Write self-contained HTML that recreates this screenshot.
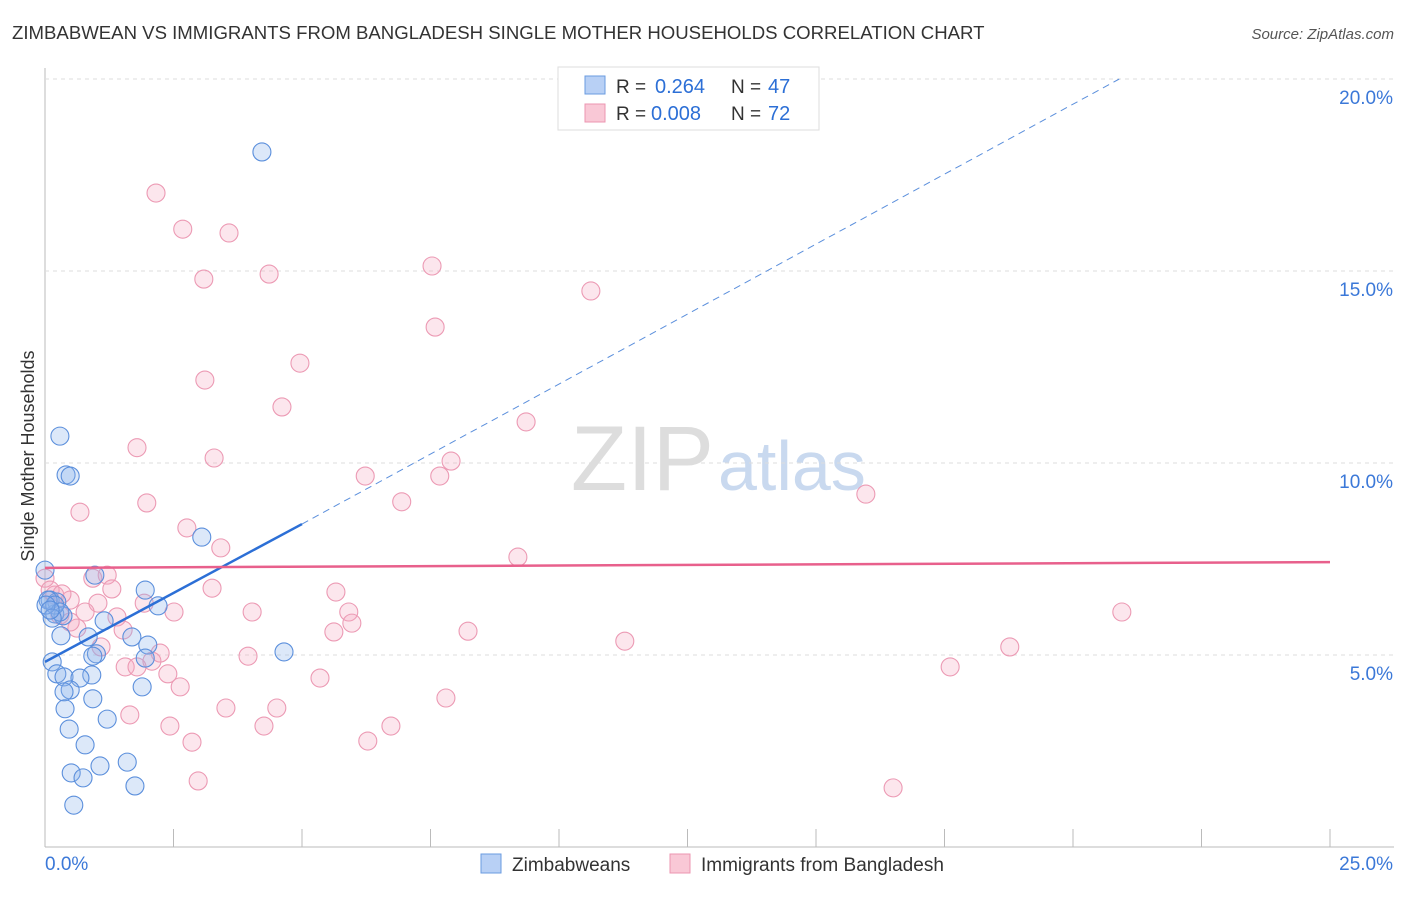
<!DOCTYPE html>
<html><head><meta charset="utf-8"><style>
body{margin:0;background:#fff;font-family:"Liberation Sans",sans-serif}
svg text{font-family:"Liberation Sans",sans-serif}
</style></head><body>
<svg id="c" width="1406" height="892">
<text x="12" y="39" font-size="18.6" fill="#333">ZIMBABWEAN VS IMMIGRANTS FROM BANGLADESH SINGLE MOTHER HOUSEHOLDS CORRELATION CHART</text>
<text x="1394" y="39" font-size="15" fill="#555" text-anchor="end" font-style="italic">Source: ZipAtlas.com</text>
<text x="714" y="490" font-size="92" fill="#ddd" text-anchor="end" font-family="Liberation Serif">ZIP</text>
<text x="718" y="490" font-size="70" fill="#c9d9ef">atlas</text>
<text transform="translate(34,456) rotate(-90)" font-size="18" fill="#333" text-anchor="middle">Single Mother Households</text>
<g id="grid"></g><g id="pts"></g><g id="lines"></g>
<g>
<rect x="558" y="67" width="261" height="63" fill="#fff" stroke="#ddd"/>
<rect x="585" y="76" width="20" height="18" fill="#b8d0f5" stroke="#6a9be0"/>
<rect x="585" y="104" width="20" height="18" fill="#f9c8d6" stroke="#ec96b0"/>
<text x="616" y="93" font-size="19" fill="#333">R =</text><text x="655" y="93" font-size="20" fill="#2c6fd6">0.264</text>
<text x="731" y="93" font-size="19" fill="#333">N =</text><text x="768" y="93" font-size="20" fill="#2c6fd6">47</text>
<text x="616" y="120" font-size="19" fill="#333">R =</text><text x="651" y="120" font-size="20" fill="#2c6fd6">0.008</text>
<text x="731" y="120" font-size="19" fill="#333">N =</text><text x="768" y="120" font-size="20" fill="#2c6fd6">72</text>
</g>
<g>
<rect x="481" y="854" width="20" height="19" fill="#b8d0f5" stroke="#6a9be0"/>
<text x="512" y="871" font-size="19" fill="#333">Zimbabweans</text>
<rect x="670" y="854" width="20" height="19" fill="#f9c8d6" stroke="#ec96b0"/>
<text x="701" y="871" font-size="19" fill="#333">Immigrants from Bangladesh</text>
</g>
</svg>
<script>
const xTicks=[0,2.5,5,7.5,10,12.5,15,17.5,20,22.5,25];
const yTicks=[5,10,15,20];
const yTickLabels=["5.0%","10.0%","15.0%","20.0%"];
const xEndLabels=["0.0%","25.0%"];
const blueX=[4.22,0.29,0.41,0.49,3.05,0.97,1.95,2.2,0.1,0.19,0.23,0.35,0.31,0.84,1.15,1.69,2.0,1.0,0.93,0.14,1.95,4.65,0.23,0.37,0.91,0.68,0.49,0.37,0.93,1.89,1.21,0.39,0.47,0.78,0.51,0.74,1.07,1.6,1.75,0.56,0.0,0.06,0.19,0.29,0.02,0.14,0.1];
const blueY=[18.1,10.7,9.69,9.66,8.07,7.08,6.69,6.28,6.43,6.07,6.38,6.02,5.5,5.47,5.89,5.47,5.26,5.03,4.97,4.82,4.92,5.08,4.51,4.43,4.48,4.4,4.09,4.04,3.86,4.17,3.33,3.6,3.07,2.66,1.93,1.8,2.11,2.21,1.59,1.09,7.21,6.43,6.3,6.12,6.3,5.96,6.17];
const pinkX=[2.16,2.68,3.58,4.36,3.09,7.53,10.62,7.59,4.96,3.11,4.61,9.36,1.79,3.29,7.9,6.23,7.68,1.98,6.94,15.97,0.68,2.76,3.42,9.2,0.93,1.21,1.3,3.25,5.66,0.19,0.49,1.03,1.93,2.51,4.03,5.91,20.95,0.29,1.4,5.97,0.62,1.52,8.23,5.62,11.28,1.09,18.77,2.24,3.95,1.56,2.08,1.79,2.39,17.61,2.63,5.35,7.8,1.65,3.52,4.51,2.43,4.26,6.73,2.86,6.28,2.98,16.5,0.0,0.1,0.33,0.78,0.49];
const pinkY=[17.03,16.09,15.99,14.92,14.79,15.13,14.48,13.54,12.6,12.16,11.46,11.07,10.4,10.13,10.05,9.66,9.66,8.96,8.99,9.19,8.72,8.31,7.79,7.55,7.0,7.08,6.72,6.74,6.64,6.56,6.43,6.35,6.35,6.12,6.12,6.12,6.12,6.04,5.99,5.83,5.7,5.65,5.62,5.6,5.36,5.21,5.21,5.05,4.97,4.69,4.84,4.69,4.51,4.69,4.17,4.4,3.88,3.44,3.62,3.62,3.15,3.15,3.15,2.73,2.76,1.72,1.54,7.0,6.69,6.59,6.12,5.86];
const blueTrend=[4.82,0.718];
const pinkTrend=[7.27,0.006];
const blueDashEnd=[20.9,20.0];
const X=v=>45+v*51.4, Y=v=>847-v*38.4;
const ns='http://www.w3.org/2000/svg';
function mk(t,a,p){const e=document.createElementNS(ns,t);for(const k in a)e.setAttribute(k,a[k]);p.appendChild(e);return e;}
const g=document.getElementById('grid');
let ax=mk('line',{x1:45,y1:68,x2:45,y2:847,stroke:'#bbb'},g);


let bx=mk('line',{x1:45,y1:847,x2:1394,y2:847,stroke:'#bbb'},g);


yTicks.forEach((v,i)=>{
 const l=mk('line',{x1:45,y1:Y(v),x2:1394,y2:Y(v),stroke:'#ddd','stroke-dasharray':'4,4'},g);
 
 
 const t=mk('text',{x:1393,y:Y(v)+25,'font-size':19,fill:'#3b78d8','text-anchor':'end'},g);t.textContent=yTickLabels[i];
 
 
});
xTicks.forEach(v=>{
 const l=mk('line',{x1:X(v),y1:829,x2:X(v),y2:847,stroke:'#bbb'},g);
 
 
});
[[0,'start',45],[25,'end',1393]].forEach((d,i)=>{
 const t=mk('text',{x:d[2],y:870,'font-size':19,fill:'#3b78d8','text-anchor':d[1]},g);t.textContent=xEndLabels[i];
 
 
});
const p=document.getElementById('pts');
pinkX.forEach((x,i)=>{const c=mk('circle',{cx:X(x),cy:Y(pinkY[i]),r:9,fill:'rgba(244,167,192,0.28)',stroke:'#ec9ab4','stroke-width':1.1},p);
 
 });
blueX.forEach((x,i)=>{const c=mk('circle',{cx:X(x),cy:Y(blueY[i]),r:9,fill:'rgba(140,180,235,0.3)',stroke:'#5b8fdc','stroke-width':1.1},p);
 
 });
const L=document.getElementById('lines');
let b1=mk('line',{x1:X(0),y1:Y(blueTrend[0]),x2:X(5),y2:Y(blueTrend[0]+5*blueTrend[1]),stroke:'#2c6fd6','stroke-width':2.5},L);


let b2=mk('line',{x1:X(5),y1:Y(blueTrend[0]+5*blueTrend[1]),x2:X(blueDashEnd[0]),y2:Y(blueDashEnd[1]),stroke:'#5b8fdc','stroke-width':1,'stroke-dasharray':'7,5'},L);


let pl=mk('line',{x1:X(0),y1:Y(pinkTrend[0]),x2:X(25),y2:Y(pinkTrend[0]+25*pinkTrend[1]),stroke:'#e8608c','stroke-width':2.5},L);


</script>
</body></html>
